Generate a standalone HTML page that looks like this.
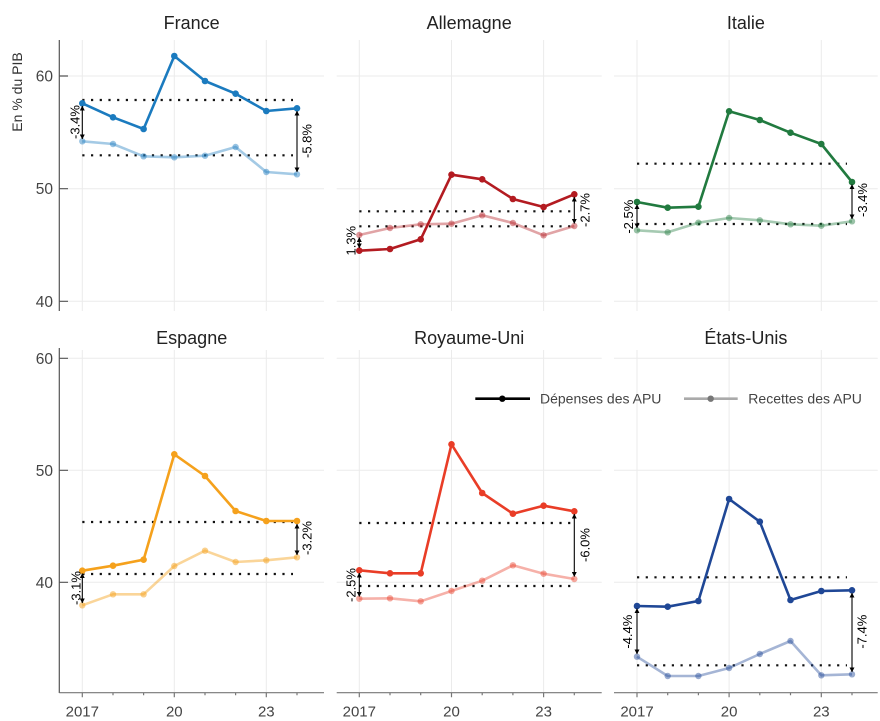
<!DOCTYPE html>
<html><head><meta charset="utf-8"><style>
html,body{margin:0;padding:0;background:#fff;}
svg{display:block;font-family:"Liberation Sans",sans-serif;}
</style></head><body>
<svg width="880" height="721" viewBox="0 0 880 721" xmlns="http://www.w3.org/2000/svg">
<defs>
<marker id="ah" viewBox="0 0 6 6" refX="5.5" refY="3" markerWidth="5" markerHeight="5" orient="auto-start-reverse" markerUnits="userSpaceOnUse"><path d="M0,0 L6,3 L0,6 z" fill="#000"/></marker>
</defs>
<g stroke="#ebebeb" stroke-width="1" fill="none">
<path d="M59.3,76H324M59.3,188.7H324M59.3,301.3H324"/>
<path d="M336.7,76H601.7M336.7,188.7H601.7M336.7,301.3H601.7"/>
<path d="M614,76H877.7M614,188.7H877.7M614,301.3H877.7"/>
<path d="M59.3,358.3H324M59.3,470.3H324M59.3,582.3H324"/>
<path d="M336.7,358.3H601.7M336.7,470.3H601.7M336.7,582.3H601.7"/>
<path d="M614,358.3H877.7M614,470.3H877.7M614,582.3H877.7"/>
<path d="M82.3,40V311M174.3,40V311M266.3,40V311M359.3,40V311M451.5,40V311M543.6,40V311M637,40V311M729.1,40V311M821.3,40V311"/>
<path d="M82.3,350V693M174.3,350V693M266.3,350V693M359.3,350V693M451.5,350V693M543.6,350V693M637,350V693M729.1,350V693M821.3,350V693"/>
</g>

<g stroke="#555" stroke-width="1.2" fill="none">
<path d="M59.3,40V311M59.3,348V693"/>
<path d="M59.3,76H68M59.3,188.7H68M59.3,301.3H68M59.3,358.3H68M59.3,470.3H68M59.3,582.3H68"/>
</g>
<g stroke="#777" stroke-width="1.2" fill="none">
<path d="M59.3,692.7H324M336.7,692.7H601.7M614,692.7H877.7"/>
<path d="M82.3,692.7v4.5M174.3,692.7v4.5M266.3,692.7v4.5M359.3,692.7v4.5M451.5,692.7v4.5M543.6,692.7v4.5M637,692.7v4.5M729.1,692.7v4.5M821.3,692.7v4.5"/>
<path d="M113,692.7v2.5M143.6,692.7v2.5M205,692.7v2.5M235.6,692.7v2.5M297,692.7v2.5M390,692.7v2.5M420.7,692.7v2.5M482.2,692.7v2.5M512.9,692.7v2.5M574.3,692.7v2.5M667.7,692.7v2.5M698.4,692.7v2.5M759.8,692.7v2.5M790.5,692.7v2.5M852,692.7v2.5"/>
</g>

<g font-size="15.5" fill="#444" text-anchor="end">
<text x="53" y="81.5">60</text><text x="53" y="194.2">50</text><text x="53" y="306.8">40</text>
<text x="53" y="363.8">60</text><text x="53" y="475.8">50</text><text x="53" y="587.8">40</text>
</g>
<text transform="translate(22,92) rotate(-90)" font-size="14" fill="#333" text-anchor="middle">En % du PIB</text>

<g font-size="15" fill="#444" text-anchor="middle">
<text x="82.3" y="716.5">2017</text><text x="174.3" y="716.5">20</text><text x="266.3" y="716.5">23</text>
<text x="359.3" y="716.5">2017</text><text x="451.5" y="716.5">20</text><text x="543.6" y="716.5">23</text>
<text x="637" y="716.5">2017</text><text x="729.1" y="716.5">20</text><text x="821.3" y="716.5">23</text>
</g>

<g font-size="18" fill="#222" text-anchor="middle">
<text x="191.7" y="29">France</text>
<text x="469.2" y="29">Allemagne</text>
<text x="745.9" y="29">Italie</text>
<text x="191.7" y="344">Espagne</text>
<text x="469.2" y="344">Royaume-Uni</text>
<text x="745.9" y="344">États-Unis</text>
</g>

<g stroke="#111" stroke-width="2.2" stroke-dasharray="2.2,6.5" fill="none">
<path d="M82.3,100H293M82.3,155.3H293"/>
<path d="M359.3,211.3H571M359.3,226.3H571"/>
<path d="M637,163.7H847M637,224H847"/>
<path d="M82.3,522H293M82.3,574H293"/>
<path d="M359.3,523H571M359.3,586H571"/>
<path d="M637,577.3H847M637,665.3H847"/>
</g>

<g fill="none" stroke-width="2.6" stroke-linejoin="round">
<polyline stroke="#1b7bbf" stroke-opacity="0.4" points="82.3,141.3 113,144 143.6,156.3 174.3,157.3 205,155.7 235.6,147 266.3,172 297,174.3"/>
<polyline stroke="#1b7bbf" points="82.3,103.3 113,117.3 143.6,129 174.3,56 205,81 235.6,93.7 266.3,111 297,108.3"/>
</g>
<g fill="#1b7bbf"><g fill-opacity="0.45">
<circle cx="82.3" cy="141.3" r="3.2"/><circle cx="113" cy="144" r="3.2"/><circle cx="143.6" cy="156.3" r="3.2"/><circle cx="174.3" cy="157.3" r="3.2"/><circle cx="205" cy="155.7" r="3.2"/><circle cx="235.6" cy="147" r="3.2"/><circle cx="266.3" cy="172" r="3.2"/><circle cx="297" cy="174.3" r="3.2"/></g>
<circle cx="82.3" cy="103.3" r="3.3"/><circle cx="113" cy="117.3" r="3.3"/><circle cx="143.6" cy="129" r="3.3"/><circle cx="174.3" cy="56" r="3.3"/><circle cx="205" cy="81" r="3.3"/><circle cx="235.6" cy="93.7" r="3.3"/><circle cx="266.3" cy="111" r="3.3"/><circle cx="297" cy="108.3" r="3.3"/>
</g>

<g fill="none" stroke-width="2.6" stroke-linejoin="round">
<polyline stroke="#b31b21" stroke-opacity="0.4" points="359.3,235 390,228 420.7,224.3 451.5,223.7 482.2,215.3 512.9,223 543.6,235.3 574.3,226"/>
<polyline stroke="#b31b21" points="359.3,250.7 390,249 420.7,239.3 451.5,174.7 482.2,179.3 512.9,199 543.6,207 574.3,194.3"/>
</g>
<g fill="#b31b21"><g fill-opacity="0.45">
<circle cx="359.3" cy="235" r="3.2"/><circle cx="390" cy="228" r="3.2"/><circle cx="420.7" cy="224.3" r="3.2"/><circle cx="451.5" cy="223.7" r="3.2"/><circle cx="482.2" cy="215.3" r="3.2"/><circle cx="512.9" cy="223" r="3.2"/><circle cx="543.6" cy="235.3" r="3.2"/><circle cx="574.3" cy="226" r="3.2"/></g>
<circle cx="359.3" cy="250.7" r="3.3"/><circle cx="390" cy="249" r="3.3"/><circle cx="420.7" cy="239.3" r="3.3"/><circle cx="451.5" cy="174.7" r="3.3"/><circle cx="482.2" cy="179.3" r="3.3"/><circle cx="512.9" cy="199" r="3.3"/><circle cx="543.6" cy="207" r="3.3"/><circle cx="574.3" cy="194.3" r="3.3"/>
</g>

<g fill="none" stroke-width="2.6" stroke-linejoin="round">
<polyline stroke="#217a3f" stroke-opacity="0.4" points="637,230.3 667.7,232.3 698.4,222.7 729.1,218 759.8,220.3 790.5,224.3 821.3,225.7 852,221.3"/>
<polyline stroke="#217a3f" points="637,202 667.7,207.7 698.4,206.7 729.1,111.3 759.8,120 790.5,132.7 821.3,144 852,182"/>
</g>
<g fill="#217a3f"><g fill-opacity="0.45">
<circle cx="637" cy="230.3" r="3.2"/><circle cx="667.7" cy="232.3" r="3.2"/><circle cx="698.4" cy="222.7" r="3.2"/><circle cx="729.1" cy="218" r="3.2"/><circle cx="759.8" cy="220.3" r="3.2"/><circle cx="790.5" cy="224.3" r="3.2"/><circle cx="821.3" cy="225.7" r="3.2"/><circle cx="852" cy="221.3" r="3.2"/></g>
<circle cx="637" cy="202" r="3.3"/><circle cx="667.7" cy="207.7" r="3.3"/><circle cx="698.4" cy="206.7" r="3.3"/><circle cx="729.1" cy="111.3" r="3.3"/><circle cx="759.8" cy="120" r="3.3"/><circle cx="790.5" cy="132.7" r="3.3"/><circle cx="821.3" cy="144" r="3.3"/><circle cx="852" cy="182" r="3.3"/>
</g>

<g fill="none" stroke-width="2.6" stroke-linejoin="round">
<polyline stroke="#f5a11c" stroke-opacity="0.45" points="82.3,605.3 113,594.3 143.6,594.3 174.3,566 205,550.7 235.6,562 266.3,560.3 297,557.3"/>
<polyline stroke="#f5a11c" points="82.3,570.7 113,565.7 143.6,559.7 174.3,454.3 205,476 235.6,511 266.3,521 297,521"/>
</g>
<g fill="#f5a11c"><g fill-opacity="0.5">
<circle cx="82.3" cy="605.3" r="3.2"/><circle cx="113" cy="594.3" r="3.2"/><circle cx="143.6" cy="594.3" r="3.2"/><circle cx="174.3" cy="566" r="3.2"/><circle cx="205" cy="550.7" r="3.2"/><circle cx="235.6" cy="562" r="3.2"/><circle cx="266.3" cy="560.3" r="3.2"/><circle cx="297" cy="557.3" r="3.2"/></g>
<circle cx="82.3" cy="570.7" r="3.3"/><circle cx="113" cy="565.7" r="3.3"/><circle cx="143.6" cy="559.7" r="3.3"/><circle cx="174.3" cy="454.3" r="3.3"/><circle cx="205" cy="476" r="3.3"/><circle cx="235.6" cy="511" r="3.3"/><circle cx="266.3" cy="521" r="3.3"/><circle cx="297" cy="521" r="3.3"/>
</g>

<g fill="none" stroke-width="2.6" stroke-linejoin="round">
<polyline stroke="#e93d27" stroke-opacity="0.4" points="359.3,598.7 390,598.3 420.7,601.3 451.5,591 482.2,580.7 512.9,565.3 543.6,573.7 574.3,579"/>
<polyline stroke="#e93d27" points="359.3,570.3 390,573.3 420.7,573.3 451.5,444.3 482.2,493 512.9,513.7 543.6,505.7 574.3,511.3"/>
</g>
<g fill="#e93d27"><g fill-opacity="0.45">
<circle cx="359.3" cy="598.7" r="3.2"/><circle cx="390" cy="598.3" r="3.2"/><circle cx="420.7" cy="601.3" r="3.2"/><circle cx="451.5" cy="591" r="3.2"/><circle cx="482.2" cy="580.7" r="3.2"/><circle cx="512.9" cy="565.3" r="3.2"/><circle cx="543.6" cy="573.7" r="3.2"/><circle cx="574.3" cy="579" r="3.2"/></g>
<circle cx="359.3" cy="570.3" r="3.3"/><circle cx="390" cy="573.3" r="3.3"/><circle cx="420.7" cy="573.3" r="3.3"/><circle cx="451.5" cy="444.3" r="3.3"/><circle cx="482.2" cy="493" r="3.3"/><circle cx="512.9" cy="513.7" r="3.3"/><circle cx="543.6" cy="505.7" r="3.3"/><circle cx="574.3" cy="511.3" r="3.3"/>
</g>

<g fill="none" stroke-width="2.6" stroke-linejoin="round">
<polyline stroke="#1f4796" stroke-opacity="0.4" points="637,656.7 667.7,676 698.4,676 729.1,668 759.8,654 790.5,641 821.3,675.3 852,674.3"/>
<polyline stroke="#1f4796" points="637,606 667.7,606.7 698.4,601 729.1,499 759.8,521.7 790.5,600 821.3,591 852,590.3"/>
</g>
<g fill="#1f4796"><g fill-opacity="0.45">
<circle cx="637" cy="656.7" r="3.2"/><circle cx="667.7" cy="676" r="3.2"/><circle cx="698.4" cy="676" r="3.2"/><circle cx="729.1" cy="668" r="3.2"/><circle cx="759.8" cy="654" r="3.2"/><circle cx="790.5" cy="641" r="3.2"/><circle cx="821.3" cy="675.3" r="3.2"/><circle cx="852" cy="674.3" r="3.2"/></g>
<circle cx="637" cy="606" r="3.3"/><circle cx="667.7" cy="606.7" r="3.3"/><circle cx="698.4" cy="601" r="3.3"/><circle cx="729.1" cy="499" r="3.3"/><circle cx="759.8" cy="521.7" r="3.3"/><circle cx="790.5" cy="600" r="3.3"/><circle cx="821.3" cy="591" r="3.3"/><circle cx="852" cy="590.3" r="3.3"/>
</g>

<g stroke="#000" stroke-width="1.1" fill="none" marker-start="url(#ah)" marker-end="url(#ah)">
<line x1="82.3" y1="106" x2="82.3" y2="139"/>
<line x1="297" y1="111" x2="297" y2="172"/>
<line x1="359.3" y1="248" x2="359.3" y2="237.5"/>
<line x1="574.3" y1="197" x2="574.3" y2="223.5"/>
<line x1="637" y1="204.5" x2="637" y2="228"/>
<line x1="852" y1="184.5" x2="852" y2="219"/>
<line x1="82.3" y1="573.5" x2="82.3" y2="603"/>
<line x1="297" y1="524" x2="297" y2="555"/>
<line x1="359.3" y1="573" x2="359.3" y2="596.5"/>
<line x1="574.3" y1="514" x2="574.3" y2="576.5"/>
<line x1="637" y1="608.5" x2="637" y2="654"/>
<line x1="852" y1="593" x2="852" y2="672"/>
</g>

<g font-size="13" fill="#000" text-anchor="middle">
<text transform="translate(74.7,122) rotate(-90)" dy="0.35em">-3.4%</text>
<text transform="translate(307,141) rotate(-90)" dy="0.35em">-5.8%</text>
<text transform="translate(351,240.7) rotate(-90)" dy="0.35em">1.3%</text>
<text transform="translate(585,210) rotate(-90)" dy="0.35em">-2.7%</text>
<text transform="translate(628.3,216.7) rotate(-90)" dy="0.35em">-2.5%</text>
<text transform="translate(862.3,200) rotate(-90)" dy="0.35em">-3.4%</text>
<text transform="translate(76,588) rotate(-90)" dy="0.35em">-3.1%</text>
<text transform="translate(306.7,538) rotate(-90)" dy="0.35em">-3.2%</text>
<text transform="translate(351,585) rotate(-90)" dy="0.35em">-2.5%</text>
<text transform="translate(585,545) rotate(-90)" dy="0.35em">-6.0%</text>
<text transform="translate(627.3,631.7) rotate(-90)" dy="0.35em">-4.4%</text>
<text transform="translate(861.7,631.7) rotate(-90)" dy="0.35em">-7.4%</text>
</g>

<line x1="475.3" y1="398.7" x2="530" y2="398.7" stroke="#000" stroke-width="2.6"/>
<circle cx="502.3" cy="398.7" r="3.2" fill="#000"/>
<text x="540" y="403.5" font-size="14" fill="#444">Dépenses des APU</text>
<line x1="684" y1="398.7" x2="737.7" y2="398.7" stroke="#aaa" stroke-width="2.6"/>
<circle cx="710.7" cy="398.7" r="3.2" fill="#777"/>
<text x="748.3" y="403.5" font-size="14" fill="#444">Recettes des APU</text>
</svg>
</body></html>
